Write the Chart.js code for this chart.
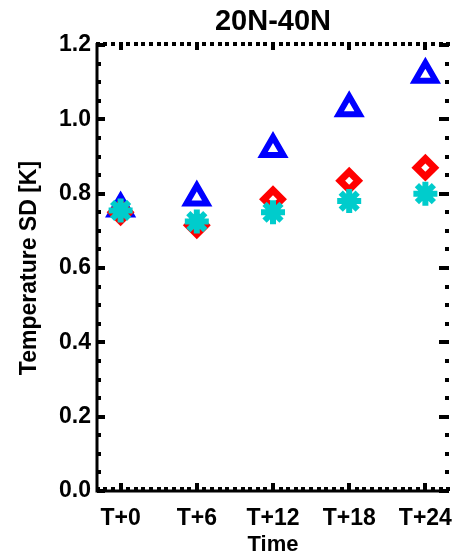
<!DOCTYPE html>
<html>
<head>
<meta charset="utf-8">
<script src="https://cdn.jsdelivr.net/npm/chart.js@4/dist/chart.umd.min.js"></script>
<style>
  body { margin: 0; background: #fff; }
  canvas { display: block; }
</style>
</head>
<body>
<canvas id="myChart" width="467" height="559"></canvas>
<script>
// forecast steps on the x axis
const steps = ["T+0", "T+6", "T+12", "T+18", "T+24"];
const stepIdx = [0, 1, 2, 3, 4];

// temperature SD [K]
const sdBlue = [0.76, 0.79, 0.92, 1.03, 1.12];
const sdRed = [0.75, 0.715, 0.785, 0.835, 0.87];
const sdCyan = [0.755, 0.725, 0.75, 0.78, 0.8];

const yTickVals = [0, 0.2, 0.4, 0.6, 0.8, 1.0, 1.2];

function pts(vals) {
  return vals.map((v, i) => ({ x: stepIdx[i], y: v }));
}

Chart.defaults.font.family = "'Liberation Sans', Arial, sans-serif";
Chart.defaults.font.weight = "bold";
Chart.defaults.color = "#000";

// IDL-like axes: solid left/bottom, inward ticks on all four sides
const tickMarks = {
  id: "tickMarks",
  beforeDatasetsDraw(chart) {
    const { ctx, chartArea: a, scales } = chart;
    const xs = scales.x, ys = scales.y;
    ctx.save();
    ctx.strokeStyle = "#000";
    ctx.lineWidth = 3;
    ctx.lineCap = "butt";
    ctx.beginPath();
    ctx.moveTo(a.left, a.top - 2);
    ctx.lineTo(a.left, a.bottom);
    ctx.lineTo(a.right, a.bottom);
    ctx.stroke();

    ctx.lineWidth = 4;
    ctx.beginPath();
    for (let k = 0; k <= 24; k++) {
      const v = k * 0.05;
      const py = Math.round(ys.getPixelForValue(v));
      const major = k % 4 === 0;
      ctx.moveTo(a.left, py);
      ctx.lineTo(a.left + (major ? 8 : 4), py);
      ctx.moveTo(a.right, py);
      ctx.lineTo(a.right - (major ? 10 : 4), py);
    }
    for (let k = -3; k <= 43; k++) {
      const v = k * 0.1;
      if (v < xs.min || v > xs.max) continue;
      const px = Math.round(xs.getPixelForValue(v));
      const major = k % 10 === 0;
      const len = major ? 8 : 4;
      ctx.moveTo(px, a.bottom);
      ctx.lineTo(px, a.bottom - len);
      ctx.moveTo(px, a.top - 3);
      ctx.lineTo(px, a.top - 3 + len);
    }
    ctx.stroke();
    ctx.restore();
  }
};

const chart = new Chart("myChart", {
  type: "scatter",
  data: {
    datasets: [
      {
        label: "blue",
        data: pts(sdBlue),
        pointStyle: "triangle",
        pointRadius: 12,
        pointBorderWidth: 6,
        borderColor: "#0000ff",
        backgroundColor: "rgba(0,0,0,0)",
        order: 3,
      },
      {
        label: "red",
        data: pts(sdRed),
        pointStyle: "rectRot",
        pointRadius: 9,
        pointBorderWidth: 7,
        borderColor: "#ff0000",
        backgroundColor: "rgba(0,0,0,0)",
        order: 2,
      },
      {
        label: "cyan",
        data: pts(sdCyan),
        pointStyle: "star",
        pointRadius: 12,
        pointBorderWidth: 6,
        borderColor: "#00cccc",
        backgroundColor: "#00cccc",
        order: 1,
      },
    ],
  },
  options: {
    responsive: false,
    animation: false,
    devicePixelRatio: 1,
    layout: { padding: { left: 0, right: 2, top: 0, bottom: 0 } },
    plugins: {
      legend: { display: false },
      tooltip: { enabled: false },
      title: {
        display: true,
        text: "20N-40N",
        fullSize: false,
        font: { size: 29, weight: "bold", lineHeight: 1 },
        padding: { top: 7, bottom: 9 },
        color: "#000",
      },
    },
    scales: {
      x: {
        type: "linear",
        min: -0.31,
        max: 4.31,
        grid: { display: false, drawTicks: false },
        border: { display: false },
        afterBuildTicks(scale) {
          scale.ticks = stepIdx.map((v) => ({ value: v }));
        },
        afterFit(scale) {
          scale.height = 68;
          scale.paddingLeft = 0;
          scale.paddingRight = 0;
        },
        ticks: {
          font: { size: 23, weight: "bold" },
          padding: 14,
          maxRotation: 0,
          autoSkip: false,
          callback: (v) => steps[v] ?? "",
        },
        title: {
          display: true,
          text: "Time",
          font: { size: 22, weight: "bold", lineHeight: 1.2 },
          padding: { top: 0, bottom: 1 },
        },
      },
      y: {
        min: 0,
        max: 1.2,
        grid: { display: false, drawTicks: false },
        border: { display: false },
        afterBuildTicks(scale) {
          scale.ticks = yTickVals.map((v) => ({ value: v }));
        },
        afterFit(scale) {
          scale.width = 97;
          scale.paddingTop = 0;
          scale.paddingBottom = 0;
        },
        ticks: {
          font: { size: 23, weight: "bold" },
          padding: 6,
          callback: (v) => v.toFixed(1),
        },
        title: {
          display: true,
          text: "Temperature SD [K]",
          font: { size: 23, weight: "bold", lineHeight: 1.2 },
          padding: { top: 16, bottom: 0 },
        },
      },
    },
  },
  plugins: [tickMarks],
});
</script>
</body>
</html>
